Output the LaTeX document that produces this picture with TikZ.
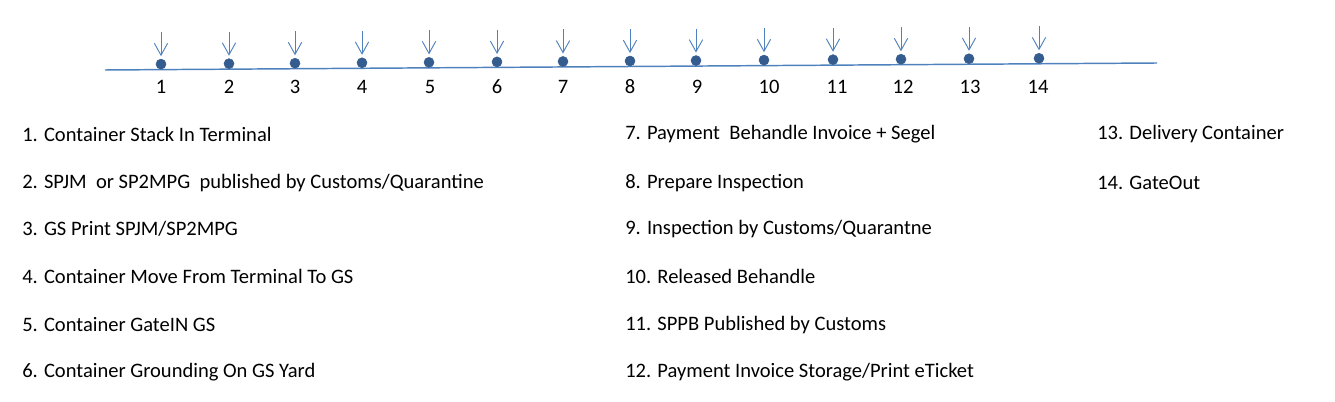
\documentclass[tikz,border=0pt]{standalone}
\usepackage{fontspec}
\setmainfont{Carlito}
\usepackage{tikz}
\usetikzlibrary{arrows.meta, positioning}

\definecolor{lineblue}{RGB}{79,129,189}
\definecolor{dotblue}{RGB}{52,92,142}

\begin{document}
\begin{tikzpicture}[x=0.75pt, y=-0.75pt, font=\fontsize{15.4}{18}\selectfont]

			\useasboundingbox (0,0) rectangle (1335,402);

			% Timeline
			\coordinate (lineL) at (105, 70);
			\coordinate (lineR) at (1157, 63);
			\draw[lineblue, line width=1.1pt] (lineL) -- (lineR);

			\foreach \i/\x/\nx in {1/161/161, 2/229/229, 3/295/295, 4/362/362, 5/429/430, 6/497/497, 7/563/563, 8/630/630, 9/696/697, 10/764/769, 11/833/837, 12/901/903, 13/969/970, 14/1039/1038} {
				\node[draw=dotblue, fill=dotblue, circle, inner sep=0pt, minimum size=7.5pt] (d\i) at (\x, {70-7*(\x-105)/1053-5.5}) {};
				\coordinate (top\i) at (\x, {70-7*(\x-105)/1053-37.5});
				\draw[-{Straight Barb[length=9pt, width=10pt]}, lineblue, line width=0.7pt] (top\i) -- ([yshift=2pt]d\i.north);
				\node[text=black] (n\i) at (\nx, 87) {\i};
			}

			% Steps, left column
			\node[anchor=west, inner sep=0pt] (s1) at (22, 134) {1. Container Stack In Terminal};
			\node[anchor=west, inner sep=0pt] (s2) at (22, 183) {2. SPJM \ or SP2MPG \ published by Customs/Quarantine};
			\node[anchor=west, inner sep=0pt] (s3) at (22, 229) {3. GS Print SPJM/SP2MPG};
			\node[anchor=west, inner sep=0pt] (s4) at (22, 276) {4. Container Move From Terminal To GS};
			\node[anchor=west, inner sep=0pt] (s5) at (22, 325) {5. Container GateIN GS};
			\node[anchor=west, inner sep=0pt] (s6) at (22, 372) {6. Container Grounding On GS Yard};

			% Steps, middle column
			\node[anchor=west, inner sep=0pt] (s7) at (625, 134) {7. Payment \ Behandle Invoice + Segel};
			\node[anchor=west, inner sep=0pt] (s8) at (625, 183) {8. Prepare Inspection};
			\node[anchor=west, inner sep=0pt] (s9) at (625, 229) {9. Inspection by Customs/Quarantne};
			\node[anchor=west, inner sep=0pt] (s10) at (625, 276) {10. Released Behandle};
			\node[anchor=west, inner sep=0pt] (s11) at (625, 325) {11. SPPB Published by Customs};
			\node[anchor=west, inner sep=0pt] (s12) at (625, 372) {12. Payment Invoice Storage/Print eTicket};

			% Steps, right column
			\node[anchor=west, inner sep=0pt] (s13) at (1097, 134) {13. Delivery Container};
			\node[anchor=west, inner sep=0pt] (s14) at (1097, 183) {14. GateOut};

		\end{tikzpicture}
\end{document}
